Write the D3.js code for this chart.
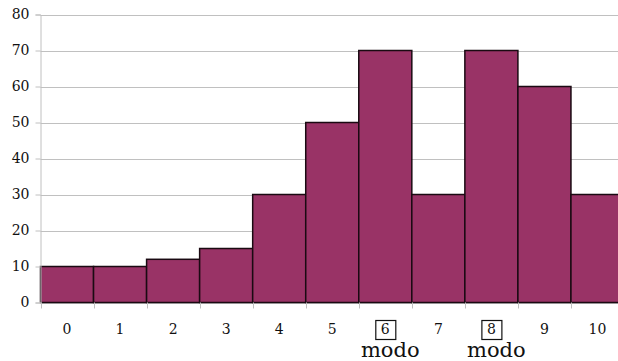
<!DOCTYPE html>
<html>
<head>
<meta charset="utf-8">
<script src="https://cdn.jsdelivr.net/npm/d3@7"></script>
<style>
body { margin: 0; background: #fff; }
text { font-family: "DejaVu Serif", serif; }
</style>
</head>
<body>
<script>
var categories = ["0", "1", "2", "3", "4", "5", "6", "7", "8", "9", "10"];
var values = [10, 10, 12, 15, 30, 50, 70, 30, 70, 60, 30];
var yTicks = [0, 10, 20, 30, 40, 50, 60, 70, 80];
var modes = ["6", "8"];

var w = 618, h = 361;
// note: "top" is taken by window.top, so use other names
var plotLeft = 40.5, plotRight = 624, plotTop = 14.5, plotBottom = 302.5;

var svg = d3.select("body").append("svg")
    .attr("width", w)
    .attr("height", h);

var x = d3.scaleBand().domain(categories).range([plotLeft, plotRight]).padding(0);
var y = d3.scaleLinear().domain([0, 80]).range([plotBottom, plotTop]);

// gridlines
svg.selectAll("line.grid")
    .data(yTicks)
    .enter()
    .append("line")
    .attr("class", "grid")
    .attr("x1", plotLeft)
    .attr("x2", w)
    .attr("y1", function(d) { return Math.round(y(d)) + 0.5; })
    .attr("y2", function(d) { return Math.round(y(d)) + 0.5; })
    .attr("stroke", "#c0c0c0");

// bars
svg.selectAll("rect.bar")
    .data(values)
    .enter()
    .append("rect")
    .attr("class", "bar")
    .attr("x", function(d, i) { return x(categories[i]); })
    .attr("y", function(d) { return y(d); })
    .attr("width", x.bandwidth())
    .attr("height", function(d) { return y(0) - y(d); })
    .attr("fill", "#993366")
    .attr("stroke", "#1a0a12")
    .attr("stroke-width", 1.5);

// y axis
var yAxis = svg.append("g")
    .attr("transform", "translate(" + plotLeft + ",0)")
    .call(d3.axisLeft(y).tickValues(yTicks).tickSize(5).tickPadding(6));
yAxis.select(".domain").attr("stroke", "#c0c0c0");
yAxis.selectAll(".tick line").attr("stroke", "#c0c0c0");
yAxis.selectAll("text")
    .attr("font-family", "DejaVu Serif, serif")
    .attr("font-size", "14px")
    .attr("fill", "#111");

// x ticks at band edges
var edges = categories.map(function(c) { return x(c); }).concat([x(categories[categories.length - 1]) + x.bandwidth()]);
svg.selectAll("line.xtick")
    .data(edges)
    .enter()
    .append("line")
    .attr("class", "xtick")
    .attr("x1", function(d) { return Math.round(d) + 0.5; })
    .attr("x2", function(d) { return Math.round(d) + 0.5; })
    .attr("y1", plotBottom)
    .attr("y2", plotBottom + 6)
    .attr("stroke", "#c0c0c0");

// x labels
svg.selectAll("text.xlab")
    .data(categories)
    .enter()
    .append("text")
    .attr("class", "xlab")
    .attr("x", function(d) { return x(d) + x.bandwidth() / 2; })
    .attr("y", 334)
    .attr("text-anchor", "middle")
    .attr("font-size", "14px")
    .attr("fill", "#111")
    .text(function(d) { return d; });

// boxes round the modes and "modo" label
modes.forEach(function(m) {
    var cx = x(m) + x.bandwidth() / 2;
    svg.append("rect")
        .attr("x", cx - 9.5)
        .attr("y", 320.5)
        .attr("width", 20)
        .attr("height", 19)
        .attr("fill", "none")
        .attr("stroke", "#111")
        .attr("stroke-width", 1.2);
    svg.append("text")
        .attr("x", cx + 5)
        .attr("y", 357)
        .attr("text-anchor", "middle")
        .attr("font-size", "21px")
        .attr("fill", "#111")
        .text("modo");
});
</script>
</body>
</html>
